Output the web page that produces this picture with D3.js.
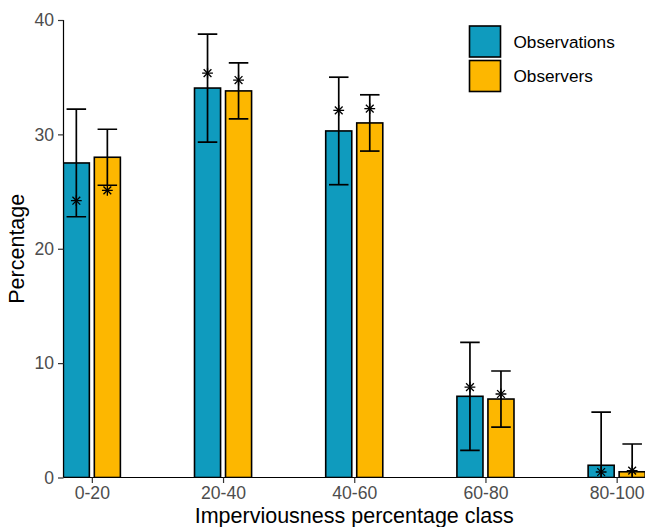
<!DOCTYPE html>
<html>
<head>
<meta charset="utf-8">
<script src="https://cdn.jsdelivr.net/npm/d3@7"></script>
<style>
  html, body { margin: 0; padding: 0; background: #fff; }
  svg { display: block; font-family: "Liberation Sans", Arial, sans-serif; }
</style>
</head>
<body>
<svg id="chart" width="645" height="527"></svg>
<script>
// Imperviousness classes on the x axis
const categories = ["0-20", "20-40", "40-60", "60-80", "80-100"];
const seriesNames = ["Observations", "Observers"];
const seriesColors = ["#0F9BBE", "#FDB700"];

// Mean percentage per class (bar height)
const observationsMean = [27.5, 34.05, 30.3, 7.1, 1.07];
const observersMean    = [28.0, 33.8, 31.0, 6.86, 0.5];

// Error bar half-widths (symmetric around the mean)
const observationsErr = [4.7, 4.72, 4.7, 4.72, 4.65];
const observersErr    = [2.45, 2.45, 2.46, 2.45, 2.43];

// Second statistic drawn as an asterisk
const observationsStar = [24.2, 35.35, 32.1, 7.9, 0.48];
const observersStar    = [25.1, 34.75, 32.25, 7.3, 0.6];

const yTicks = [0, 10, 20, 30, 40];

const rows = [];
categories.forEach((c, i) => {
  rows.push({ cat: c, s: seriesNames[0], mean: observationsMean[i], err: observationsErr[i], star: observationsStar[i] });
  rows.push({ cat: c, s: seriesNames[1], mean: observersMean[i], err: observersErr[i], star: observersStar[i] });
});

const svg = d3.select("#chart");
const panelLeft = 63.5, panelRight = 645, panelTop = 20, panelBottom = 477.5;

const x = d3.scalePoint().domain(categories).range([panelLeft, panelRight]).padding(0.216);
const groupW = x.step() * 0.435;
const x1 = d3.scaleBand().domain(seriesNames).range([-groupW / 2, groupW / 2]).paddingInner(0.16);
const y = d3.scaleLinear().domain([0, 40]).range([panelBottom, panelTop]);
const color = d3.scaleOrdinal().domain(seriesNames).range(seriesColors);

svg.append("defs").append("clipPath").attr("id", "panel")
  .append("rect").attr("x", panelLeft).attr("y", 0)
  .attr("width", panelRight - panelLeft).attr("height", panelBottom);

const panel = svg.append("g").attr("clip-path", "url(#panel)");

// Bars
panel.selectAll("rect.bar").data(rows).join("rect")
  .attr("class", "bar")
  .attr("x", d => x(d.cat) + x1(d.s))
  .attr("width", x1.bandwidth())
  .attr("y", d => y(d.mean))
  .attr("height", d => y(0) - y(d.mean))
  .attr("fill", d => color(d.s))
  .attr("stroke", "#000")
  .attr("stroke-width", 1.6);

// Error bars
const capW = x1.bandwidth() * 0.75;
const eb = panel.selectAll("g.err").data(rows).join("g").attr("class", "err")
  .attr("transform", d => `translate(${x(d.cat) + x1(d.s) + x1.bandwidth() / 2},0)`)
  .attr("stroke", "#000").attr("stroke-width", 1.7);
eb.append("line").attr("y1", d => y(d.mean + d.err)).attr("y2", d => y(d.mean - d.err));
eb.append("line").attr("x1", -capW / 2).attr("x2", capW / 2)
  .attr("y1", d => y(d.mean + d.err)).attr("y2", d => y(d.mean + d.err));
eb.append("line").attr("x1", -capW / 2).attr("x2", capW / 2)
  .attr("y1", d => y(d.mean - d.err)).attr("y2", d => y(d.mean - d.err));

// Asterisks
const r = 5.4, rd = r * 0.72;
const star = panel.selectAll("g.star").data(rows).join("g").attr("class", "star")
  .attr("transform", d => `translate(${x(d.cat) + x1(d.s) + x1.bandwidth() / 2},${y(d.star)})`)
  .attr("stroke", "#000").attr("stroke-width", 1.3);
star.append("line").attr("x1", -r).attr("x2", r);
star.append("line").attr("y1", -r).attr("y2", r);
star.append("line").attr("x1", -rd).attr("y1", -rd).attr("x2", rd).attr("y2", rd);
star.append("line").attr("x1", -rd).attr("y1", rd).attr("x2", rd).attr("y2", -rd);

// Axes
const yAxis = svg.append("g").attr("transform", `translate(${panelLeft},0)`)
  .call(d3.axisLeft(y).tickValues(yTicks).tickSize(5.5).tickPadding(4));
const xAxis = svg.append("g").attr("transform", `translate(0,${panelBottom})`)
  .call(d3.axisBottom(x).tickSize(5.5).tickPadding(4));
[yAxis, xAxis].forEach(a => {
  a.select(".domain").attr("stroke", "#000").attr("stroke-width", 1.2);
  a.selectAll(".tick line").attr("stroke", "#333").attr("stroke-width", 1.2);
  a.selectAll(".tick text").attr("fill", "#4D4D4D").attr("font-size", "17.6px")
    .attr("font-family", "Liberation Sans, Arial, sans-serif");
});
xAxis.select(".domain").attr("d", `M${panelLeft},0H${panelRight}`);
yAxis.select(".domain").attr("d", `M0,${panelTop}V${panelBottom}`);

// Axis titles
svg.append("text").attr("x", (panelLeft + panelRight) / 2).attr("y", 522.5)
  .attr("text-anchor", "middle").attr("font-size", "21.5px").attr("fill", "#000")
  .text("Imperviousness percentage class");
svg.append("text").attr("transform", `translate(24,${(panelTop + panelBottom) / 2}) rotate(-90)`)
  .attr("text-anchor", "middle").attr("font-size", "21.5px").attr("fill", "#000")
  .text("Percentage");

// Legend
const lg = svg.append("g").attr("transform", "translate(469.5,26)");
seriesNames.forEach((s, i) => {
  lg.append("rect").attr("x", 0).attr("y", i * 34.5).attr("width", 31).attr("height", 31)
    .attr("fill", color(s)).attr("stroke", "#000").attr("stroke-width", 1.6);
  lg.append("text").attr("x", 44).attr("y", i * 34.5 + 15.5).attr("dy", "0.35em")
    .attr("font-size", "17.2px").attr("fill", "#000").text(s);
});
</script>
</body>
</html>
